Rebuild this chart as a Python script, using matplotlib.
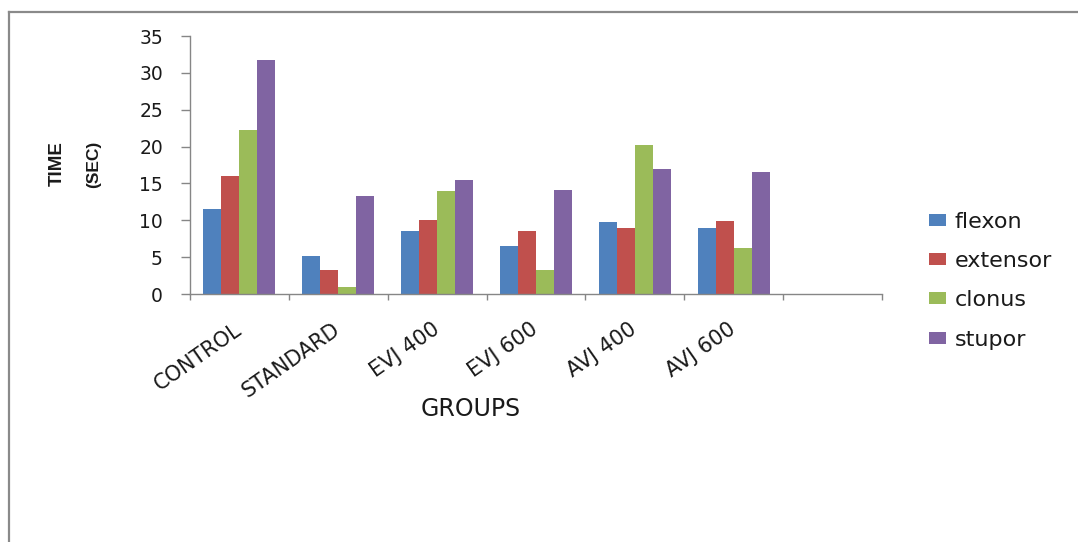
import matplotlib
matplotlib.use('Agg')
import matplotlib.pyplot as plt
from matplotlib.lines import Line2D
from matplotlib.patches import Patch
import numpy as np

# ---- data ----
groups = ['CONTROL', 'STANDARD', 'EVJ 400', 'EVJ 600', 'AVJ 400', 'AVJ 600', '']
series = ['flexon', 'extensor', 'clonus', 'stupor']
flexon = [11.5, 5.2, 8.6, 6.5, 9.7, 9.0]
extensor = [16.0, 3.3, 10.1, 8.5, 9.0, 9.9]
clonus = [22.2, 1.0, 14.0, 3.2, 20.2, 6.3]
stupor = [31.7, 13.3, 15.4, 14.1, 17.0, 16.6]
yticks = [0, 5, 10, 15, 20, 25, 30, 35]
colors = ['#4F81BD', '#C0504D', '#9BBB59', '#8064A2']

values = [flexon, extensor, clonus, stupor]

W, H = 1078, 542
fig = plt.figure(figsize=(W / 100, H / 100), dpi=100)
plt.rcParams['font.family'] = ['DejaVu Sans']

ax = fig.add_axes([190 / W, 1 - 294 / H, 692 / W, 258 / H])

n_groups = len(groups)
bw = 0.727 / len(series)
for j, (name, vals) in enumerate(zip(series, values)):
    x = np.arange(len(vals)) + (j - (len(series) - 1) / 2) * bw
    ax.bar(x, vals, width=bw, color=colors[j], label=name, linewidth=0)

ax.set_xlim(-0.5, n_groups - 0.5)
ax.set_ylim(0, 35)

axis_col = '#868686'
for s in ['top', 'right']:
    ax.spines[s].set_visible(False)
for s in ['left', 'bottom']:
    ax.spines[s].set_color(axis_col)
    ax.spines[s].set_linewidth(1.0)

ax.set_yticks(yticks)
ax.set_yticklabels([str(v) for v in yticks])
ax.tick_params(axis='y', direction='out', length=6.5, width=1.0, color=axis_col,
               labelsize=13.5, pad=13, labelcolor='#1a1a1a')

ax.set_xticks(np.arange(n_groups + 1) - 0.5)
ax.set_xticklabels([])
ax.tick_params(axis='x', which='major', direction='out', length=4.5, width=1.0, color=axis_col)
ax.set_xticks(np.arange(n_groups), minor=True)
ax.set_xticklabels(groups, minor=True, rotation=35, ha='right', va='center',
                   rotation_mode='anchor', fontsize=15, color='#1a1a1a')
ax.tick_params(axis='x', which='minor', length=0, pad=24)

ax.set_xlabel('GROUPS', fontsize=17, color='#1a1a1a', va='center')
ax.xaxis.set_label_coords((471 - 190) / 692, (294 - 409.5) / 258)

fig.text(57 / W, 1 - 164 / H, 'TIME', rotation=90, ha='center', va='center',
         fontsize=13.5, fontweight='bold', family=['Liberation Sans', 'DejaVu Sans'],
         color='#1a1a1a')
fig.text(94 / W, 1 - 164 / H, '(SEC)', rotation=90, ha='center', va='center',
         fontsize=12.5, fontweight='bold', family=['Liberation Sans', 'DejaVu Sans'],
         color='#1a1a1a')

handles = [Patch(facecolor=c, edgecolor='none') for c in colors]
fig.legend(handles, series, loc='center left', bbox_to_anchor=(929 / W, 1 - 280.5 / H),
           frameon=False, borderpad=0, borderaxespad=0, handlelength=0.75,
           handleheight=0.45, handletextpad=0.4, labelspacing=0.87, fontsize=16,
           labelcolor='#1a1a1a')

frame_col = '#8a8a8a'
fig.add_artist(Line2D([9 / W, 9 / W], [0, 1 - 12 / H], color=frame_col, lw=1.6,
                      transform=fig.transFigure))
fig.add_artist(Line2D([9 / W, 1], [1 - 12 / H, 1 - 12 / H], color=frame_col, lw=1.6,
                      transform=fig.transFigure))

fig.savefig('out.png', dpi=100)
